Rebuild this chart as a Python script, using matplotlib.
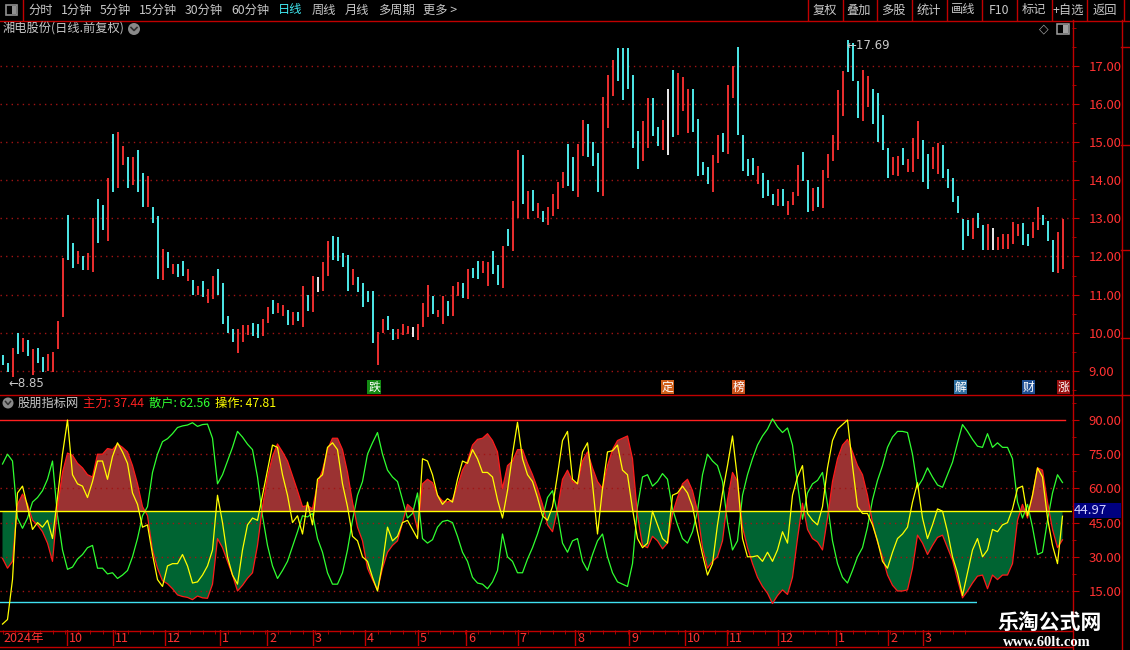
import matplotlib
matplotlib.use('Agg')
import matplotlib.pyplot as plt
from matplotlib.patches import Rectangle, Circle
from matplotlib.ticker import MultipleLocator, FuncFormatter

plt.rcParams['font.family'] = ['Noto Sans CJK SC', 'DejaVu Sans']

# ---- price data, one point = two trading days ----
hi = [9.42, 9.20, 9.59, 10.00, 9.85, 9.82, 9.58, 9.60, 9.36, 9.45,
      9.50, 10.30, 11.95, 13.10, 12.35, 12.15, 12.00, 12.10, 13.00, 13.50,
      13.35, 14.07, 15.22, 15.27, 14.90, 14.60, 14.60, 14.80, 14.20, 14.10,
      13.30, 13.06, 12.20, 12.12, 11.80, 11.80, 11.88, 11.67, 11.38, 11.22,
      11.35, 11.14, 11.50, 11.67, 11.30, 10.43, 10.10, 10.10, 10.20, 10.20,
      10.25, 10.22, 10.36, 10.68, 10.85, 10.77, 10.72, 10.60, 10.55, 10.55,
      11.22, 11.00, 11.48, 11.45, 11.85, 12.40, 12.55, 12.50, 12.10, 12.05,
      11.66, 11.45, 11.30, 11.10, 11.10, 10.03, 10.37, 10.43, 10.11, 10.11,
      10.24, 10.18, 10.14, 10.22, 10.77, 11.25, 10.96, 10.59, 10.96, 10.82,
      11.22, 11.32, 11.30, 11.68, 11.69, 11.88, 11.88, 11.85, 12.14, 11.77,
      12.27, 12.72, 13.46, 14.80, 14.67, 13.72, 13.75, 13.40, 13.20, 13.30,
      13.64, 13.96, 14.22, 14.96, 14.60, 14.96, 15.59, 15.48, 15.00, 14.72,
      16.19, 16.77, 17.17, 17.48, 17.46, 17.48, 16.77, 15.30, 15.56, 16.17,
      16.17, 15.40, 15.59, 16.40, 16.90, 16.82, 16.70, 16.40, 16.40, 15.60,
      14.48, 14.35, 14.67, 15.19, 15.25, 16.50, 16.99, 17.50, 15.20, 14.56,
      14.58, 14.38, 14.18, 14.00, 13.65, 13.77, 13.77, 13.45, 13.70, 14.40,
      14.74, 14.00, 13.80, 13.83, 14.27, 14.70, 15.20, 16.38, 16.86, 17.69,
      17.60, 16.60, 16.90, 16.73, 16.40, 16.30, 15.72, 14.84, 14.62, 14.65,
      14.84, 14.55, 15.10, 15.56, 15.06, 14.70, 14.87, 14.97, 14.93, 14.30,
      14.05, 13.60, 12.98, 12.96, 13.00, 13.13, 12.82, 12.84, 12.75, 12.50,
      12.58, 12.58, 12.90, 12.84, 12.87, 12.60, 12.90, 13.30, 13.08, 12.94,
      12.42, 12.65, 12.98]
lo = [9.16, 8.98, 8.85, 9.45, 9.50, 9.38, 8.90, 9.20, 8.98, 9.00,
      8.98, 9.56, 10.40, 11.90, 11.70, 11.80, 11.65, 11.65, 11.60, 12.35,
      12.70, 12.40, 13.70, 13.80, 14.40, 13.80, 13.87, 13.70, 13.30, 13.30,
      12.87, 11.40, 11.38, 11.70, 11.55, 11.47, 11.50, 11.35, 11.00, 10.98,
      10.93, 10.77, 10.88, 11.00, 10.24, 9.98, 9.75, 9.48, 9.76, 9.95,
      9.92, 9.87, 9.92, 10.26, 10.50, 10.53, 10.43, 10.20, 10.20, 10.30,
      10.16, 10.56, 10.55, 11.08, 11.10, 11.48, 11.92, 11.87, 11.72, 11.10,
      11.26, 11.07, 10.68, 10.80, 9.73, 9.14, 9.99, 10.06, 9.80, 9.83,
      9.93, 9.97, 9.88, 9.80, 10.15, 10.40, 10.48, 10.40, 10.22, 10.45,
      10.43, 10.96, 10.91, 10.88, 11.43, 11.41, 11.56, 11.22, 11.53, 11.25,
      11.18, 12.27, 12.14, 13.00, 13.38, 12.98, 13.19, 13.00, 12.90, 12.82,
      13.06, 13.24, 13.80, 13.85, 13.72, 13.56, 14.64, 14.60, 14.38, 13.70,
      13.59, 15.38, 16.22, 16.61, 16.11, 16.40, 14.85, 14.30, 14.50, 14.85,
      15.17, 14.90, 14.80, 14.67, 15.14, 15.20, 15.82, 15.25, 15.27, 14.10,
      14.14, 13.90, 13.70, 14.45, 14.75, 14.70, 16.16, 15.20, 14.25, 14.12,
      14.15, 13.90, 13.54, 13.60, 13.35, 13.33, 13.33, 13.10, 13.35, 13.60,
      13.99, 13.16, 13.20, 13.30, 13.28, 14.05, 14.50, 14.80, 15.70, 16.85,
      16.60, 15.63, 15.56, 15.93, 15.47, 15.00, 14.80, 14.07, 14.15, 14.10,
      14.40, 14.23, 14.23, 14.56, 13.96, 13.77, 14.30, 14.16, 14.05, 13.80,
      13.44, 13.15, 12.17, 12.55, 12.45, 12.75, 12.17, 12.17, 12.17, 12.17,
      12.20, 12.20, 12.34, 12.55, 12.30, 12.28, 12.48, 12.70, 12.82, 12.40,
      11.60, 11.56, 11.68]
# r = up, c = down, w = flat
updown = ("ccrcrcrccr" "rrrccrcrrc" "crcrrcrccr" "ccrcrccrcr" "crrccccrrr"
          "ccrrcrrcrc" "rcrwrrcccc" "rccccrrccr" "rrwrrrcrrc" "rrcrccrrcc"
          "rcrrcrcrcr" "rrrccrrccc" "rrrcccccrr" "ccrwcrrrcc" "ccrrcrrccc"
          "crcccrcrrr" "ccrcrrrrrc" "ccrrccccrr" "crrrccrrcc" "ccccrccrwr"
          "rrrrccrrcc" "crr")

# ---- indicator ----
main = [29.3, 25, 28, 53, 57.5, 53, 46, 44, 41, 36,
        28, 52, 67, 75.5, 74.5, 71, 69, 66, 65, 75,
        75, 77.5, 77, 79.5, 78, 76, 70, 62, 52, 48,
        33, 25, 19.5, 18.2, 16, 13.3, 12.6, 12.2, 11.2, 12.8,
        12, 11.8, 18, 38, 34, 28, 22, 15, 17.5, 20.6,
        23, 35, 52, 65, 74, 79.5, 76, 72, 65.5, 59,
        52, 52.5, 51, 62, 68, 77, 82, 82, 77, 67,
        54, 43, 37, 25, 20, 15.5, 25, 32, 35, 37,
        45, 53, 51, 42, 62, 64, 62.5, 57, 54.5, 54,
        55, 61, 68, 72, 79, 81.5, 82, 84, 81, 76,
        60, 70, 72, 77, 77, 71, 66, 60, 53, 44,
        41, 51, 64, 68, 63, 62, 72, 76, 69, 63,
        60, 70, 77, 81, 82, 83, 73, 48, 35, 34,
        39, 37, 33.5, 36, 49, 56, 62, 64, 59, 50,
        34, 25, 28, 30, 37, 55, 67, 63, 43, 34,
        27, 21, 17, 14, 9.5, 13, 15.5, 13.5, 21, 38,
        53.5, 42, 38, 36.5, 33, 47, 63, 73, 79, 81.5,
        76, 70, 66, 57, 45, 36.5, 30, 22, 17.5, 15,
        15, 15.5, 25, 39.5, 36, 31, 35, 38.5, 39.5, 34,
        28.5, 20, 12, 15, 18.5, 21.5, 22, 16, 22, 20,
        22, 22, 27, 46, 53, 47, 57, 69, 68, 54,
        42, 34, 37.44]
oper = [0.5, 2.5, 20, 58, 61, 52, 42, 45, 43, 46,
        38, 56, 75, 90, 66, 62, 61, 56, 63, 72,
        72, 64, 74, 80, 76, 71, 58, 53, 43, 44,
        31, 20, 17, 26, 27, 27, 31, 26, 18.5, 19,
        22, 26, 33, 57, 45, 30, 22, 18, 33, 44,
        47, 46, 57, 68, 79, 78, 66, 57, 45, 48,
        40, 54, 44, 64, 66, 78, 80, 77, 62, 52,
        39, 37, 30, 28, 21, 15, 27, 43, 37, 39,
        45, 46, 42, 38, 73, 72, 66, 57, 53, 55.5,
        54, 64, 72, 71, 77, 73, 67, 67, 65, 55,
        47, 59, 75, 89, 73, 66, 63, 56, 48, 46,
        52, 66, 81, 85, 64, 62, 76, 80, 62, 40,
        60, 76, 76.5, 79, 68, 66, 51, 38, 34, 36,
        50, 44, 38, 36, 57, 58, 61, 58, 52, 41,
        31, 22, 27, 44, 58, 70, 83, 64, 38, 30,
        30, 30.5, 28, 32, 28, 33, 41, 36, 57, 65,
        70, 49, 46, 44, 52, 69, 81, 86, 88, 90,
        70, 52, 49, 49, 44, 37, 28, 25, 32, 38,
        40, 43, 54, 62.5, 47, 38, 44, 51, 50, 41,
        30, 23, 13, 23, 33, 38, 30, 33, 42, 41,
        44, 45, 51, 60, 61, 48, 57, 69, 65, 47,
        35, 27, 47.81]
retail = [round(100 - v, 2) for v in main]
last_box = 44.97

# month starts on the sample axis
month_pos = [12.9, 22, 32.5, 43.5, 52.9, 62, 72.5, 83.1, 92.7, 103,
             114.5, 125.3, 136.5, 144.9, 155.1, 166.7, 177.1, 184]
month_lab = ['10', '11', '12', '1', '2', '3', '4', '5', '6', '7',
             '8', '9', '10', '11', '12', '1', '2', '3']
first_lab = '2024年'

signals = [(74.3, '跌', '#138a13'), (133, '定', '#d0601a'), (147.2, '榜', '#c8501a'),
           (191.6, '解', '#2f6fa0'), (205.2, '财', '#1f4f93'), (212.2, '涨', '#9a1010')]

tools_left = [('分时', 28), ('1分钟', 61), ('5分钟', 100), ('15分钟', 139), ('30分钟', 185),
              ('60分钟', 231), ('日线', 278), ('周线', 312), ('月线', 345), ('多周期', 378), ('更多 >', 423)]
tools_right = ['复权', '叠加', '多股', '统计', '画线', 'F10', '标记', '+自选', '返回']
tool_seps = [807, 842, 876, 911, 946, 981, 1016, 1051, 1086, 1123]

W, H = 1130, 650
RED = '#ff3232'
BORDER = '#c00000'
GRID = '#a01414'
GREY = '#c8c8c8'
UP, DOWN = '#ff3232', '#54fcfc'
XMIN, XMAX = -0.5, 213.9

fig = plt.figure(figsize=(W / 100, H / 100), dpi=100, facecolor='black')


def px_axes(x0, y0, x1, y1):
    a = fig.add_axes([x0 / W, 1 - y1 / H, (x1 - x0) / W, (y1 - y0) / H])
    a.set_facecolor('black')
    for s in a.spines.values():
        s.set_visible(False)
    a.set_xlim(XMIN, XMAX)
    return a


xs = list(range(len(hi)))
fmt2 = FuncFormatter(lambda v, p: '%.2f' % v)

# price panel
ax = px_axes(0, 20, 1072, 394)
ax.set_ylim(8.391, 18.207)
for p in range(9, 18):
    ax.axhline(p, color=GRID, ls=(0, (1, 3)), lw=1)
cols = [{'r': UP, 'c': DOWN, 'w': 'white'}[c] for c in updown]
ax.vlines(xs, lo, hi, colors=cols, linewidth=1.3)
ax.yaxis.tick_right()
ax.set_yticks(range(9, 18))
ax.yaxis.set_major_formatter(fmt2)
ax.yaxis.set_minor_locator(MultipleLocator(0.5))
ax.tick_params(axis='y', which='major', colors=BORDER, labelcolor=RED, length=5, pad=7, labelsize=9.5)
ax.tick_params(axis='y', which='minor', colors=BORDER, length=3)
ax.tick_params(axis='x', which='both', bottom=False, labelbottom=False)
ihi = hi.index(max(hi))
ilo = lo.index(min(lo))
ax.annotate('←%.2f' % hi[ihi], xy=(ihi, hi[ihi]), xytext=(-1, -6), textcoords='offset pixels',
            color=GREY, fontsize=8.5, va='center', ha='left', family='DejaVu Sans')
ax.annotate('←%.2f' % lo[ilo], xy=(ilo, lo[ilo]), xytext=(-4, -7), textcoords='offset pixels',
            color=GREY, fontsize=8.5, va='center', ha='left', family='DejaVu Sans')
for xi, ch, c in signals:
    ax.text(xi, 8.575, ch, color='white', fontsize=8.5, ha='center', va='center',
            bbox=dict(boxstyle='square,pad=0.08', fc=c, ec='none'))

# indicator panel
ax2 = px_axes(0, 394, 1072, 630)
ax2.set_ylim(-2.1, 101.4)
for v in (15, 30, 45, 60, 75):
    ax2.axhline(v, color=GRID, ls=(0, (1, 3)), lw=1)
ax2.fill_between(xs, main, 50, where=[m >= 50 for m in main], interpolate=True, color='#9b3232', lw=0)
ax2.fill_between(xs, main, 50, where=[m <= 50 for m in main], interpolate=True, color='#006432', lw=0)
ax2.axhline(90, xmax=(212.5 - XMIN) / (XMAX - XMIN), color='#ff2020', lw=1)
ax2.axhline(10, color='#40e0f0', lw=1)
ax2.plot(xs, retail, color='#30ff30', lw=0.9)
ax2.plot(xs, main, color='#ff1a1a', lw=0.9)
ax2.plot(xs, oper, color='#ffff00', lw=0.9)
ax2.axhline(50, color='#ffff00', lw=1)
ax2.yaxis.tick_right()
ax2.set_yticks([15, 30, 45, 60, 75, 90])
ax2.yaxis.set_major_formatter(fmt2)
ax2.yaxis.set_minor_locator(MultipleLocator(7.5))
ax2.tick_params(axis='y', which='major', colors=BORDER, labelcolor=RED, length=5, pad=7, labelsize=9.5)
ax2.tick_params(axis='y', which='minor', colors=BORDER, length=3)
ax2.tick_params(axis='x', which='both', bottom=False, labelbottom=False)

# date axis
ax3 = px_axes(0, 630, 1072, 646)
ax3.set_ylim(0, 1)
ax3.set_yticks([])
ax3.set_xticks([])
ax3.xaxis.set_minor_locator(MultipleLocator(2.5))
ax3.tick_params(axis='x', which='minor', top=True, bottom=False, direction='in', length=3, colors=BORDER)
ax3.text(0.1, 0.45, first_lab, color=RED, fontsize=9, va='center', ha='left')
for mp, ml in zip(month_pos, month_lab):
    ax3.axvline(mp, color=BORDER, lw=1)
    ax3.annotate(ml, xy=(mp, 0.45), xytext=(2, 0), textcoords='offset pixels',
                 color=RED, fontsize=9, va='center', ha='left')

# overlay for frame, toolbar and labels
ov = fig.add_axes([0, 0, 1, 1])
ov.set_zorder(10)
ov.set_xlim(0, W)
ov.set_ylim(H, 0)
ov.axis('off')

ov.plot([0, W], [20.5, 20.5], color=BORDER, lw=1)
ov.plot([0, 1121], [394.5, 394.5], color=BORDER, lw=1)
ov.plot([0, 1072], [630.5, 630.5], color=BORDER, lw=1)
ov.plot([0, 1072], [646.5, 646.5], color=BORDER, lw=1)
ov.plot([1072.5, 1072.5], [20, 650], color=BORDER, lw=1)
ov.plot([1121.5, 1121.5], [20, 650], color=BORDER, lw=1)
for yy in (47, 145, 250, 338, 395):
    ov.plot([1121, 1130], [yy, yy], color=BORDER, lw=1)

# toolbar
ov.plot([22.5, 22.5], [0, 20], color=BORDER, lw=1)
ov.add_patch(Rectangle((6, 5), 11, 10, fill=False, ec='#909090', lw=1.2))
ov.add_patch(Rectangle((12, 6), 4, 8, fc='#909090', ec='none'))
for s, x in tools_left:
    ov.text(x, 10, s, color='#40e8f0' if s == '日线' else GREY, fontsize=8.8, va='center', ha='left')
for k, s in enumerate(tools_right):
    ov.plot([tool_seps[k] + 0.5] * 2, [0, 20], color=BORDER, lw=1)
    ov.text((tool_seps[k] + tool_seps[k + 1]) / 2, 10, s, color=GREY, fontsize=8.8, va='center', ha='center')
ov.plot([tool_seps[-1] + 0.5] * 2, [0, 20], color=BORDER, lw=1)

# title rows
ov.text(3, 29, '湘电股份(日线.前复权)', color=GREY, fontsize=8.8, va='center', ha='left')
ov.add_patch(Circle((134, 29), 6, fc='#8a8a8a', ec='none'))
ov.plot([131, 134, 137], [27.5, 30.5, 27.5], color='#303030', lw=1.2)
ov.text(1044, 29, '◇', color='#a0a0a0', fontsize=9, va='center', ha='center', family='DejaVu Sans')
ov.add_patch(Rectangle((1057, 24), 12, 10, fill=False, ec='#a0a0a0', lw=1.1))
ov.add_patch(Rectangle((1063, 25), 5, 8, fc='#a0a0a0', ec='none'))

ov.add_patch(Circle((8, 403), 5.5, fc='#8a8a8a', ec='none'))
ov.plot([5.5, 8, 10.5], [401.5, 404.5, 401.5], color='#303030', lw=1.1)
ov.text(18, 403, '股朋指标网', color=GREY, fontsize=8.8, va='center', ha='left')
ov.text(83, 403, '主力: %.2f' % main[-1], color='#ff2020', fontsize=8.8, va='center', ha='left')
ov.text(149, 403, '散户: %.2f' % retail[-1], color='#30ff30', fontsize=8.8, va='center', ha='left')
ov.text(215, 403, '操作: %.2f' % oper[-1], color='#ffff00', fontsize=8.8, va='center', ha='left')

# current value box (kept just above the 45.00 label)
ov.add_patch(Rectangle((1073, 503), 48, 15, fc='#000080', ec='none'))
ov.text(1074, 510.5, '%.2f' % last_box, color='#d0d0ff', fontsize=9.5, va='center', ha='left')

# watermark
ov.add_patch(Rectangle((977, 601), W - 977, H - 601, fc='black', ec='none'))
ov.text(1050, 622, '乐淘公式网', color='white', fontsize=15, fontweight='bold', va='center', ha='center')
ov.text(1047, 643, 'www.60lt.com', color='white', fontsize=10.5, fontweight='bold', va='center',
        ha='center', family='Liberation Serif')

fig.savefig('out.png', dpi=100, facecolor='black')
